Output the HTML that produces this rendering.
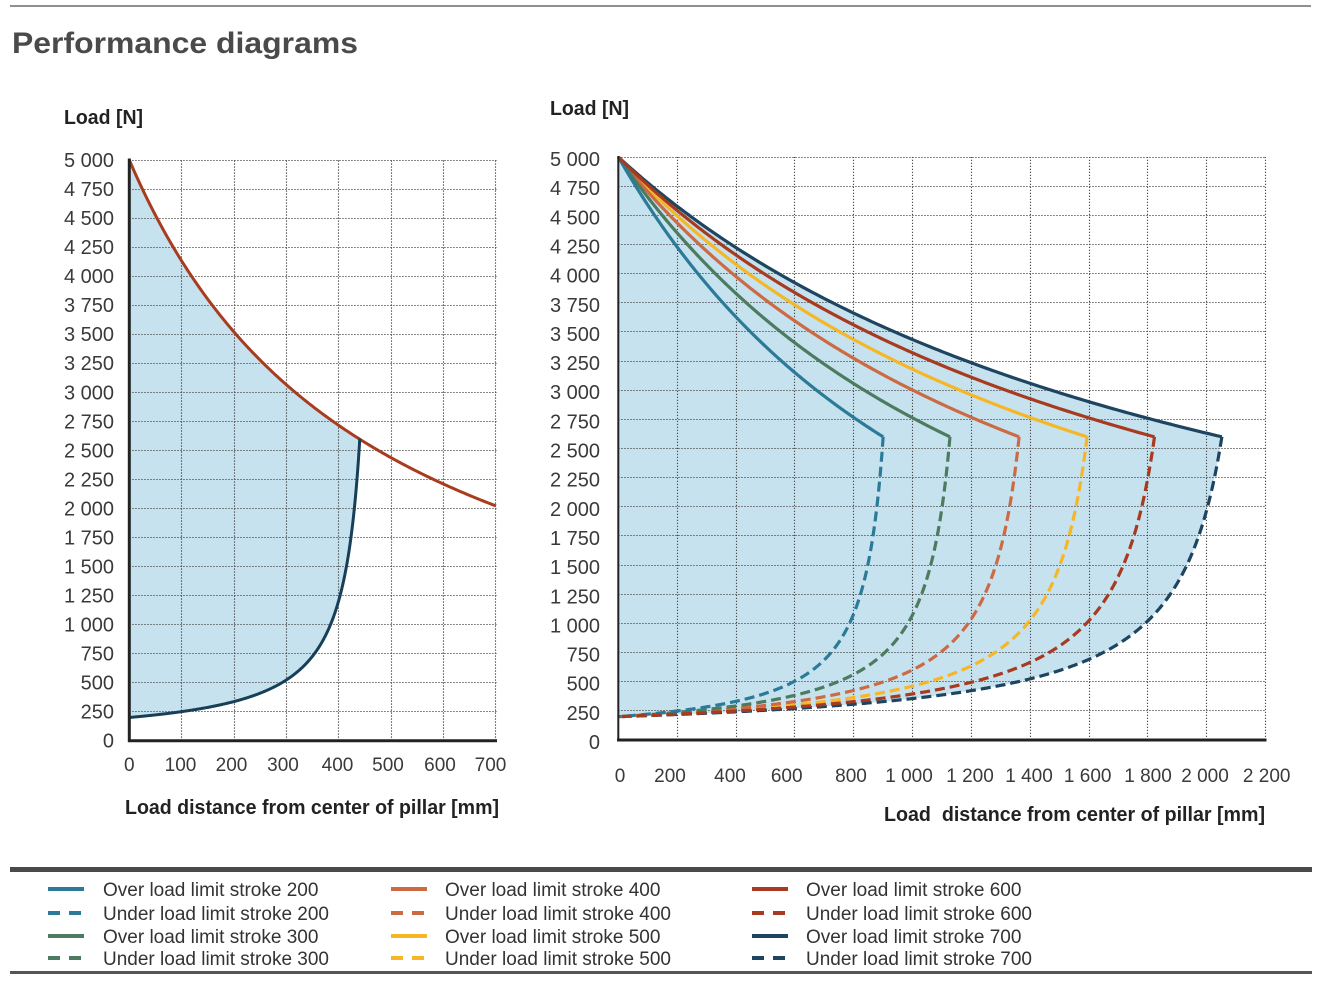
<!DOCTYPE html>
<html><head><meta charset="utf-8">
<style>html,body{margin:0;padding:0;background:#fff;}svg{display:block}</style>
</head>
<body>
<svg id="s" width="1323" height="984" viewBox="0 0 1323 984" xmlns="http://www.w3.org/2000/svg" font-family="'Liberation Sans', Arial, sans-serif">
<rect width="1323" height="984" fill="#fff"/>
<line x1="10" y1="6" x2="1311" y2="6" stroke="#6b6b6b" stroke-width="1.5"/>
<text x="12" y="53" font-size="30" font-weight="bold" fill="#4a4a4a" textLength="346" lengthAdjust="spacingAndGlyphs">Performance diagrams</text>

<g id="leftFill"></g><g id="leftGrid"></g><g id="leftCurves"></g>
<g id="rightFill"></g><g id="rightGrid"></g><g id="rightCurves"></g>

<!-- axes -->
<line x1="129.3" y1="158.5" x2="129.3" y2="742" stroke="#222" stroke-width="3"/>
<line x1="128" y1="740.7" x2="497" y2="740.7" stroke="#222" stroke-width="3"/>
<line x1="618.3" y1="156" x2="618.3" y2="741" stroke="#222" stroke-width="2"/>
<line x1="617" y1="740" x2="1266.5" y2="740" stroke="#222" stroke-width="3"/>

<!-- axis titles -->
<text x="64" y="124" font-size="20" font-weight="bold" fill="#222" textLength="79" lengthAdjust="spacingAndGlyphs">Load [N]</text>
<text x="550" y="115" font-size="20" font-weight="bold" fill="#222" textLength="79" lengthAdjust="spacingAndGlyphs">Load [N]</text>
<text x="125" y="814" font-size="20" font-weight="bold" fill="#222" textLength="374" lengthAdjust="spacingAndGlyphs">Load distance from center of pillar [mm]</text>
<text x="884" y="821" font-size="20" font-weight="bold" fill="#222" textLength="381" lengthAdjust="spacingAndGlyphs">Load&#160; distance from center of pillar [mm]</text>

<!-- left y labels -->
<g font-size="20" fill="#3a3a3a" text-anchor="end">
<text x="114" y="747.7">0</text>
<text x="114" y="718.7">250</text>
<text x="114" y="689.6">500</text>
<text x="114" y="660.6">750</text>
<text x="114" y="631.6">1 000</text>
<text x="114" y="602.5">1 250</text>
<text x="114" y="573.5">1 500</text>
<text x="114" y="544.5">1 750</text>
<text x="114" y="515.4">2 000</text>
<text x="114" y="486.4">2 250</text>
<text x="114" y="457.4">2 500</text>
<text x="114" y="428.3">2 750</text>
<text x="114" y="399.3">3 000</text>
<text x="114" y="370.2">3 250</text>
<text x="114" y="341.2">3 500</text>
<text x="114" y="312.2">3 750</text>
<text x="114" y="283.1">4 000</text>
<text x="114" y="254.1">4 250</text>
<text x="114" y="225.1">4 500</text>
<text x="114" y="196">4 750</text>
<text x="114" y="167">5 000</text>
</g>

<!-- right y labels -->
<g font-size="20" fill="#3a3a3a" text-anchor="end">
<text x="600" y="749">0</text>
<text x="600" y="719.9">250</text>
<text x="600" y="690.7">500</text>
<text x="600" y="661.6">750</text>
<text x="600" y="632.4">1 000</text>
<text x="600" y="603.3">1 250</text>
<text x="600" y="574.1">1 500</text>
<text x="600" y="545">1 750</text>
<text x="600" y="515.8">2 000</text>
<text x="600" y="486.7">2 250</text>
<text x="600" y="457.5">2 500</text>
<text x="600" y="428.4">2 750</text>
<text x="600" y="399.2">3 000</text>
<text x="600" y="370.1">3 250</text>
<text x="600" y="340.9">3 500</text>
<text x="600" y="311.8">3 750</text>
<text x="600" y="282.6">4 000</text>
<text x="600" y="253.5">4 250</text>
<text x="600" y="224.3">4 500</text>
<text x="600" y="195.2">4 750</text>
<text x="600" y="166">5 000</text>
</g>

<!-- left x labels -->
<g font-size="19" fill="#3a3a3a" text-anchor="middle">
<text x="129.3" y="771">0</text>
<text x="180.5" y="771">100</text>
<text x="231.5" y="771">200</text>
<text x="283" y="771">300</text>
<text x="337.5" y="771">400</text>
<text x="388" y="771">500</text>
<text x="440" y="771">600</text>
<text x="490.5" y="771">700</text>
</g>

<!-- right x labels -->
<g font-size="19" fill="#3a3a3a" text-anchor="middle">
<text x="620" y="782">0</text>
<text x="670" y="782">200</text>
<text x="730" y="782">400</text>
<text x="786.7" y="782">600</text>
<text x="851" y="782">800</text>
<text x="909" y="782">1 000</text>
<text x="970" y="782">1 200</text>
<text x="1029" y="782">1 400</text>
<text x="1087.7" y="782">1 600</text>
<text x="1148" y="782">1 800</text>
<text x="1205" y="782">2 000</text>
<text x="1266.7" y="782">2 200</text>
</g>

<!-- legend -->
<line x1="10" y1="869.5" x2="1312" y2="869.5" stroke="#4a4a4a" stroke-width="5"/>
<line x1="10" y1="972.5" x2="1312" y2="972.5" stroke="#555" stroke-width="3"/>
<g stroke-width="4">
<line x1="48" y1="889" x2="84" y2="889" stroke="#2b7a98"/>
<line x1="48" y1="913" x2="84" y2="913" stroke="#2b7a98" stroke-dasharray="12 9"/>
<line x1="48" y1="936" x2="84" y2="936" stroke="#4c7b5f"/>
<line x1="48" y1="958" x2="84" y2="958" stroke="#4c7b5f" stroke-dasharray="12 9"/>
<line x1="391" y1="889" x2="427" y2="889" stroke="#cd6a43"/>
<line x1="391" y1="913" x2="427" y2="913" stroke="#cd6a43" stroke-dasharray="12 9"/>
<line x1="391" y1="936" x2="427" y2="936" stroke="#f6b626"/>
<line x1="391" y1="958" x2="427" y2="958" stroke="#f6b626" stroke-dasharray="12 9"/>
<line x1="752" y1="889" x2="788" y2="889" stroke="#a73a1f"/>
<line x1="752" y1="913" x2="788" y2="913" stroke="#a73a1f" stroke-dasharray="12 9"/>
<line x1="752" y1="936" x2="788" y2="936" stroke="#1d4560"/>
<line x1="752" y1="958" x2="788" y2="958" stroke="#1d4560" stroke-dasharray="12 9"/>
</g>
<g font-size="19" fill="#333">
<text x="103" y="896">Over load limit stroke 200</text>
<text x="103" y="920">Under load limit stroke 200</text>
<text x="103" y="943">Over load limit stroke 300</text>
<text x="103" y="965">Under load limit stroke 300</text>
<text x="445" y="896">Over load limit stroke 400</text>
<text x="445" y="920">Under load limit stroke 400</text>
<text x="445" y="943">Over load limit stroke 500</text>
<text x="445" y="965">Under load limit stroke 500</text>
<text x="806" y="896">Over load limit stroke 600</text>
<text x="806" y="920">Under load limit stroke 600</text>
<text x="806" y="943">Over load limit stroke 700</text>
<text x="806" y="965">Under load limit stroke 700</text>
</g>
</svg>

<script>
(function(){
var NS='http://www.w3.org/2000/svg';
function el(tag,a,p){var e=document.createElementNS(NS,tag);for(var k in a)e.setAttribute(k,a[k]);p.appendChild(e);return e;}
function g(id){return document.getElementById(id);}
var L={x0:129.3,kx:(496-129.3)/700,y0:740.7,ky:(740.7-160)/5000};
var R={x0:618.3,kx:(1265.7-618.3)/2200,y0:740,ky:(740-157)/5000};
function X(c,v){return c.x0+v*c.kx;}
function Y(c,v){return c.y0-v*c.ky;}
function sn(v){return Math.round(v-0.5)+0.5;}
var G1=1.0793,A1=203.25,B1=11.7;
var UEND=G1-A1/(2600-B1);
function under(c,Xi){
  var pts=[],N=600;
  for(var i=0;i<=N;i++){var s=i/N;var u=(1-(1-s)*(1-s))*UEND;var P=A1/(G1-u)+B1;var x=u/UEND*Xi;pts.push([X(c,x),Y(c,P)]);}
  return pts;
}
function overR(Xi){
  var n=Math.log(5000/2600)/Math.log(1+Xi/2000);var pts=[],N=200;
  for(var i=0;i<=N;i++){var x=Xi*i/N;pts.push([X(R,x),Y(R,5000*Math.pow(1+x/2000,-n))]);}
  return pts;
}
function overL(x1){
  var pts=[],N=200;
  for(var i=0;i<=N;i++){var x=x1*i/N;pts.push([X(L,x),Y(L,5000*475/(475+x))]);}
  return pts;
}
function d(pts){return 'M'+pts.map(function(p){return p[0].toFixed(2)+','+p[1].toFixed(2);}).join('L');}
var GS={stroke:'#4a4a4a','stroke-width':1.1,'stroke-dasharray':'1.3 1.7'};
function gl(x1,y1,x2,y2,p){var a={x1:x1,y1:y1,x2:x2,y2:y2};for(var k in GS)a[k]=GS[k];el('line',a,p);}

var FILL='#c6e2ef';
// LEFT
var lu=under(L,440), lo=overL(440).reverse();
el('path',{d:d(lu.concat(lo))+'Z',fill:FILL,stroke:'none'},g('leftFill'));
var lg=g('leftGrid');
for(var v=250;v<=5000;v+=250){var yy=sn(Y(L,v));gl(X(L,0),yy,X(L,700)+0.5,yy,lg);}
for(var m=100;m<=700;m+=100){var xx=sn(X(L,m));gl(xx,Y(L,0),xx,Y(L,5000),lg);}
var lc=g('leftCurves');
el('path',{d:d(overL(700)),fill:'none',stroke:'#a83c1f','stroke-width':3,'stroke-linejoin':'round'},lc);
el('path',{d:d(lu),fill:'none',stroke:'#173f58','stroke-width':3,'stroke-linejoin':'round'},lc);

// RIGHT
var Xs=[900,1127,1362,1593,1822,2051];
var cols=['#2b7a98','#4c7b5f','#cd6a43','#f6b626','#a73a1f','#1d4560'];
var ru=under(R,2051), ro=overR(2051).reverse();
el('path',{d:d(ru.concat(ro))+'Z',fill:FILL,stroke:'none'},g('rightFill'));
var rg=g('rightGrid');
for(var v2=250;v2<=5000;v2+=250){var y2=sn(Y(R,v2));gl(X(R,0),y2,X(R,2200)+0.5,y2,rg);}
for(var m2=200;m2<=2200;m2+=200){var x2=sn(X(R,m2));gl(x2,Y(R,0),x2,Y(R,5000),rg);}
var rc=g('rightCurves');
var order=[5,3,2,1,0,4];
for(var j=0;j<order.length;j++){
  var i=order[j];
  el('path',{d:d(overR(Xs[i])),fill:'none',stroke:cols[i],'stroke-width':3.2,'stroke-linejoin':'round'},rc);
  var up=under(R,Xs[i]).reverse();
  el('path',{d:d(up),fill:'none',stroke:cols[i],'stroke-width':3.2,'stroke-dasharray':'10 5'},rc);
}
})();
</script>
</body></html>
